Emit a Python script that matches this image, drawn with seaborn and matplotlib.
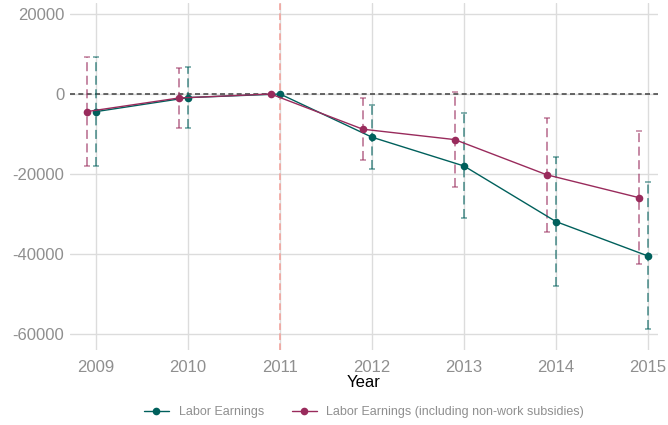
import matplotlib
matplotlib.use("Agg")
import matplotlib.pyplot as plt
import seaborn as sns
import pandas as pd
import numpy as np

# Event-study estimates relative to 2011
years = [2009, 2010, 2011, 2012, 2013, 2014, 2015]

labor_est = [-4400, -900, 0, -10800, -18000, -31900, -40500]
labor_lo = [-18000, -8600, 0, -18800, -31000, -48000, -58750]
labor_hi = [9300, 6700, 0, -2750, -4800, -15800, -22100]

subs_est = [-4400, -1000, 0, -8800, -11400, -20200, -25900]
subs_lo = [-18000, -8600, 0, -16600, -23300, -34400, -42500]
subs_hi = [9200, 6600, 0, -900, 600, -5900, -9250]

series_names = ["Labor Earnings", "Labor Earnings (including non-work subsidies)"]
y_ticks = [20000, 0, -20000, -40000, -60000]

colors = {series_names[0]: "#00605C", series_names[1]: "#992B5C"}
dodge = {series_names[0]: 0.0, series_names[1]: -0.1}

frames = []
for name, est, lo, hi in [(series_names[0], labor_est, labor_lo, labor_hi),
                          (series_names[1], subs_est, subs_lo, subs_hi)]:
    frames.append(pd.DataFrame({"Year": years, "est": est, "lo": lo, "hi": hi,
                                "series": name}))
df = pd.concat(frames, ignore_index=True)
df["x"] = df["Year"] + df["series"].map(dodge)

sns.set_theme(style="whitegrid")
plt.rcParams["font.family"] = ["Liberation Sans", "DejaVu Sans"]

fig = plt.figure(figsize=(6.68, 4.25), dpi=100)
ax = fig.add_axes([70 / 668, 1 - 350 / 425, 588 / 668, 347 / 425])

# reference lines
ax.axhline(0, color="#4d4d4d", lw=1.2, ls=(0, (3, 2)), zorder=1)
ax.axvline(2011, color="#F2A39C", lw=1.2, ls=(0, (4, 2)), zorder=1)

# confidence intervals
for name, g in df.groupby("series"):
    g = g[g["hi"] != g["lo"]]
    eb = ax.errorbar(g["x"], g["est"],
                     yerr=[g["est"] - g["lo"], g["hi"] - g["est"]],
                     fmt="none", ecolor=colors[name], alpha=0.6,
                     elinewidth=1.3, capsize=2.5, capthick=1.1, zorder=2)
    eb[2][0].set_linestyle((0, (5, 2.5)))

sns.lineplot(data=df, x="x", y="est", hue="series", hue_order=series_names,
             palette=colors, marker="o", markersize=5.5, markeredgewidth=0,
             linewidth=1.0, ax=ax, zorder=3, legend=True, estimator=None,
             sort=True)

ax.set_xlim(2008.717, 2015.109)
ax.set_ylim(-64000, 22750)
ax.set_xticks(years)
ax.set_xticklabels([str(y) for y in years])
ax.set_yticks(y_ticks)
ax.set_yticklabels([str(v) for v in y_ticks])
ax.set_xlabel("Year", fontsize=12, color="black", labelpad=0.5)
ax.set_ylabel("")
ax.tick_params(axis="x", labelsize=12, labelcolor="#8f8f8f", length=0, pad=7)
ax.tick_params(axis="y", labelsize=12, labelcolor="#8f8f8f", length=0, pad=4)
ax.grid(True, color="#dcdcdc", lw=1.0)
for s in ax.spines.values():
    s.set_visible(False)

handles, labels = ax.get_legend_handles_labels()
ax.legend_.remove()
leg = fig.legend(handles, labels, loc="center", bbox_to_anchor=(364 / 668, 1 - 412 / 425),
                 ncol=2, frameon=False, fontsize=9, handlelength=2.0,
                 columnspacing=2.2, handletextpad=0.8)
for t in leg.get_texts():
    t.set_color("#8f8f8f")

fig.savefig("out.png", dpi=100)
